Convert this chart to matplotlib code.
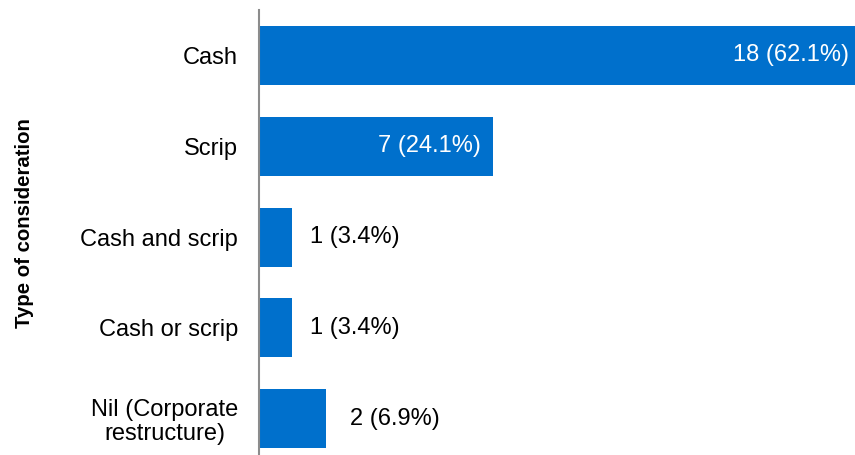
import matplotlib
matplotlib.use("Agg")
import matplotlib.pyplot as plt

plt.rcParams["font.family"] = ["Liberation Sans", "DejaVu Sans"]

# Number of schemes by type of consideration
categories = ["Cash", "Scrip", "Cash and scrip", "Cash or scrip", "Nil (Corporate\nrestructure)"]
counts = [18, 7, 1, 1, 2]
shares = [62.1, 24.1, 3.4, 3.4, 6.9]

BAR_COLOR = "#0070CC"
FS = 17

fig = plt.figure(figsize=(8.55, 4.55), dpi=100)
ax = fig.add_axes([259 / 855, 0.0, 596 / 855, 445 / 455])

y = list(range(len(categories)))
ax.barh(y, counts, height=0.65, color=BAR_COLOR)

ax.set_xlim(0, 17.8)
ax.set_ylim(4.4, -0.5)

# value labels: inside the long bars, outside the short ones
for i, (c, s) in enumerate(zip(counts, shares)):
    label = f"{c} ({s}%)"
    if c >= 5:
        ax.text(c - 0.38, i, label, ha="right", va="center", color="white",
                fontsize=FS, clip_on=False)
    else:
        ax.text(c * 1.2 + 0.32, i, label, ha="left", va="center", color="black",
                fontsize=FS)

ax.set_yticks(y)
ax.set_yticklabels(categories, fontsize=FS, linespacing=1.1, multialignment="center")
ax.tick_params(axis="y", length=0, pad=15)
ax.set_xticks([])

for side in ["top", "right", "bottom"]:
    ax.spines[side].set_visible(False)
ax.spines["left"].set_color("#8c8c8c")
ax.spines["left"].set_linewidth(1.5)

fig.text(24 / 855, 1 - 223 / 455, "Type of consideration", rotation=90,
         ha="center", va="center", fontsize=14.7, fontweight="bold")

fig.savefig("out.png", dpi=100)
